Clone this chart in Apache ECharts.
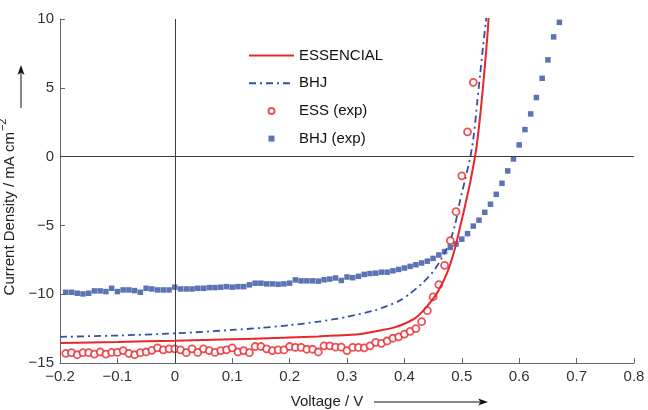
<!DOCTYPE html>
<html>
<head>
<meta charset="utf-8">
<script src="https://cdn.jsdelivr.net/npm/echarts@6/dist/echarts.min.js"></script>
<style>html,body{margin:0;padding:0;background:#fff;}#c{width:648px;height:410px;}</style>
</head>
<body>
<div id="c"></div>
<script>
// ---- data ----
var xTicks = [-0.2, -0.1, 0, 0.1, 0.2, 0.3, 0.4, 0.5, 0.6, 0.7, 0.8];
var yTicks = [-15, -10, -5, 0, 5, 10];
var seriesNames = ['ESSENCIAL', 'BHJ', 'ESS (exp)', 'BHJ (exp)'];

var essFitV = [-0.2, -0.1, 0, 0.1, 0.15, 0.2, 0.25, 0.3, 0.33, 0.36, 0.38, 0.40, 0.42, 0.435, 0.445, 0.455, 0.465, 0.473, 0.48, 0.488, 0.496, 0.505, 0.514, 0.52, 0.525, 0.53, 0.535, 0.54, 0.545, 0.547];
var essFitJ = [-13.55, -13.47, -13.38, -13.28, -13.22, -13.15, -13.07, -12.97, -12.85, -12.62, -12.45, -12.15, -11.7, -11.1, -10.6, -10.05, -9.3, -8.6, -7.8, -6.7, -5.3, -3.7, -2.0, -0.7, 0.5, 2.2, 4.2, 6.5, 9.0, 10.3];

var bhjFitV = [-0.2, -0.1, 0, 0.1, 0.15, 0.2, 0.25, 0.3, 0.35, 0.39, 0.41, 0.43, 0.45, 0.465, 0.479, 0.488, 0.4965, 0.505, 0.515, 0.521, 0.527, 0.532, 0.537, 0.542, 0.543];
var bhjFitJ = [-13.1, -13.0, -12.85, -12.6, -12.45, -12.25, -12.0, -11.65, -11.15, -10.5, -9.95, -9.25, -8.36, -7.4, -6.2, -5.0, -3.3, -1.8, 0, 1.6, 4.0, 6.0, 8.0, 9.8, 10.2];

var essExpV = [-0.19, -0.18, -0.17, -0.16, -0.15, -0.14, -0.13, -0.12, -0.11, -0.10, -0.09, -0.08, -0.07, -0.06, -0.05, -0.04, -0.03, -0.02, -0.01, 0.00,
  0.01, 0.02, 0.03, 0.04, 0.05, 0.06, 0.07, 0.08, 0.09, 0.10, 0.11, 0.12, 0.13, 0.14, 0.15, 0.16, 0.17, 0.18, 0.19, 0.20,
  0.21, 0.22, 0.23, 0.24, 0.25, 0.26, 0.27, 0.28, 0.29, 0.30, 0.31, 0.32, 0.33, 0.34, 0.35, 0.36, 0.37, 0.38, 0.39, 0.40,
  0.41, 0.42, 0.43, 0.44, 0.45, 0.46, 0.47, 0.48, 0.49, 0.50, 0.51, 0.52];
var essExpJ = [-14.3, -14.25, -14.4, -14.25, -14.25, -14.35, -14.2, -14.35, -14.23, -14.23, -14.1, -14.3, -14.4, -14.25, -14.2, -14.08, -13.9, -14.04, -13.97, -13.97,
  -14.04, -14.25, -13.97, -14.23, -13.97, -14.1, -14.23, -14.1, -14.04, -13.9, -14.2, -14.1, -14.25, -13.8, -13.8, -13.97, -14.1, -14.05, -14.05, -13.8,
  -13.87, -13.87, -14.0, -14.0, -14.2, -13.75, -13.75, -13.85, -13.85, -14.1, -13.87, -13.87, -13.9, -13.75, -13.5, -13.57, -13.4, -13.2, -13.1, -12.9,
  -12.7, -12.5, -12.0, -11.2, -10.2, -9.3, -7.9, -6.1, -4.0, -1.4, 1.8, 5.4];

var bhjExpV = [-0.19, -0.18, -0.17, -0.16, -0.15, -0.14, -0.13, -0.12, -0.11, -0.10, -0.09, -0.08, -0.07, -0.06, -0.05, -0.04, -0.03, -0.02, -0.01, 0.00,
  0.01, 0.02, 0.03, 0.04, 0.05, 0.06, 0.07, 0.08, 0.09, 0.10, 0.11, 0.12, 0.13, 0.14, 0.15, 0.16, 0.17, 0.18, 0.19, 0.20,
  0.21, 0.22, 0.23, 0.24, 0.25, 0.26, 0.27, 0.28, 0.29, 0.30, 0.31, 0.32, 0.33, 0.34, 0.35, 0.36, 0.37, 0.38, 0.39, 0.40,
  0.41, 0.42, 0.43, 0.44, 0.45, 0.46, 0.47, 0.48, 0.49, 0.50, 0.51, 0.52, 0.53, 0.54, 0.55, 0.56, 0.57, 0.58, 0.59, 0.60,
  0.61, 0.62, 0.63, 0.64, 0.65, 0.66, 0.67];
var bhjExpJ = [-9.86, -9.86, -9.93, -9.98, -9.93, -9.76, -9.76, -9.81, -9.57, -9.81, -9.69, -9.69, -9.74, -9.86, -9.57, -9.62, -9.69, -9.69, -9.69, -9.49,
  -9.62, -9.62, -9.62, -9.57, -9.57, -9.52, -9.52, -9.49, -9.45, -9.49, -9.45, -9.45, -9.32, -9.2, -9.2, -9.25, -9.25, -9.28, -9.25, -9.2,
  -8.96, -9.03, -9.03, -9.03, -9.05, -8.95, -8.9, -8.82, -9.0, -8.75, -8.8, -8.7, -8.56, -8.5, -8.47, -8.4, -8.4, -8.3, -8.2, -8.1,
  -7.98, -7.86, -7.73, -7.6, -7.4, -7.15, -6.9, -6.6, -6.35, -6.0, -5.6, -5.05, -4.62, -4.05, -3.46, -2.74, -1.94, -1.04, -0.17, 0.85,
  1.96, 3.1, 4.29, 5.69, 7.03, 8.7, 9.76];

function pairs(xs, ys) { var out = []; for (var i = 0; i < xs.length; i++) out.push([xs[i], ys[i]]); return out; }
function minus(v) { var s = String(Math.round(v * 10) / 10); return s.replace('-', '\u2212'); }

var RED = '#e8262b';
var BLUE = '#3350a3';
var FONT = 'Liberation Sans, Arial, Helvetica, sans-serif';

var chart = echarts.init(document.getElementById('c'), null, { renderer: 'canvas' });
chart.setOption({
  animation: false,
  backgroundColor: '#fff',
  textStyle: { fontFamily: FONT },
  grid: { left: 60, right: 14, top: 19, bottom: 47, containLabel: false, outerBoundsMode: 'none' },
  legend: {
    orient: 'vertical', left: 248, top: 48, padding: 0,
    itemWidth: 45, itemHeight: 6, itemGap: 12.7,
    textStyle: { fontSize: 15, color: '#111', fontFamily: FONT },
    data: [
      { name: seriesNames[0], itemStyle: { opacity: 0 } },
      { name: seriesNames[1], itemStyle: { opacity: 0 } },
      { name: seriesNames[2], icon: 'circle' },
      { name: seriesNames[3], icon: 'path://M0 0H10V10H0Z' }
    ]
  },
  xAxis: {
    type: 'value', min: xTicks[0], max: xTicks[xTicks.length - 1], interval: 0.1,
    axisLine: { onZero: false, lineStyle: { color: '#666', width: 1 } },
    axisTick: { inside: true, length: 5, lineStyle: { color: '#666' } },
    splitLine: { show: false },
    axisLabel: { fontSize: 15, color: '#333', margin: 6, fontFamily: FONT, formatter: minus },
    name: 'Voltage / V', nameLocation: 'middle', nameGap: 31,
    nameTextStyle: { fontSize: 15, color: '#222', fontFamily: FONT, padding: [0, 40, 0, 0] }
  },
  yAxis: {
    type: 'value', min: yTicks[0], max: yTicks[yTicks.length - 1], interval: 5,
    axisLine: { onZero: false, lineStyle: { color: '#666', width: 1 } },
    axisTick: { inside: true, length: 5, lineStyle: { color: '#666' } },
    splitLine: { show: false },
    axisLabel: { fontSize: 15, color: '#333', margin: 6, fontFamily: FONT, formatter: minus },
    name: '{a|Current Density / mA cm}{s|\u22122}', nameLocation: 'middle', nameRotate: 90, nameGap: 31,
    nameTextStyle: {
      color: '#222', fontFamily: FONT, padding: [0, 32, 0, 0],
      rich: {
        a: { fontSize: 15, color: '#222', fontFamily: FONT, lineHeight: 20, verticalAlign: 'bottom' },
        s: { fontSize: 11, color: '#222', fontFamily: FONT, lineHeight: 20, verticalAlign: 'top', padding: [0, 0, 4, 1] }
      }
    }
  },
  graphic: [
    { type: 'line', shape: { x1: 21, y1: 108, x2: 21, y2: 72 }, style: { stroke: '#111', lineWidth: 1 } },
    { type: 'polygon', shape: { points: [[21, 65], [17.5, 75], [21, 72.5], [24.5, 75]] }, style: { fill: '#111' } },
    { type: 'line', shape: { x1: 374, y1: 402, x2: 480, y2: 402 }, style: { stroke: '#111', lineWidth: 1 } },
    { type: 'polygon', shape: { points: [[488, 402], [478, 398.5], [480.5, 402], [478, 405.5]] }, style: { fill: '#111' } }
  ],
  series: [
    {
      name: seriesNames[3], type: 'scatter', data: pairs(bhjExpV, bhjExpJ), z: 2,
      symbol: 'rect', symbolSize: 5.5, itemStyle: { color: BLUE }
    },
    {
      name: seriesNames[1], type: 'line', data: pairs(bhjFitV, bhjFitJ), z: 3,
      symbol: 'none', smooth: 0.25, clip: true,
      lineStyle: { color: BLUE, width: 1.8, type: [7, 4, 2, 4] }, itemStyle: { color: BLUE }
    },
    {
      name: seriesNames[2], type: 'scatter', data: pairs(essExpV, essExpJ), z: 4,
      symbol: 'circle', symbolSize: 7,
      itemStyle: { color: '#fff', borderColor: RED, borderWidth: 1.8 }
    },
    {
      name: seriesNames[0], type: 'line', data: pairs(essFitV, essFitJ), z: 5,
      symbol: 'none', smooth: 0.25, clip: true,
      lineStyle: { color: RED, width: 2 }, itemStyle: { color: RED },
      markLine: {
        silent: true, symbol: ['none', 'none'], animation: false,
        label: { show: false },
        lineStyle: { color: '#3c3c3c', width: 1, type: 'solid' },
        data: [{ yAxis: 0 }, { xAxis: 0 }]
      }
    }
  ]
});
</script>
</body>
</html>
